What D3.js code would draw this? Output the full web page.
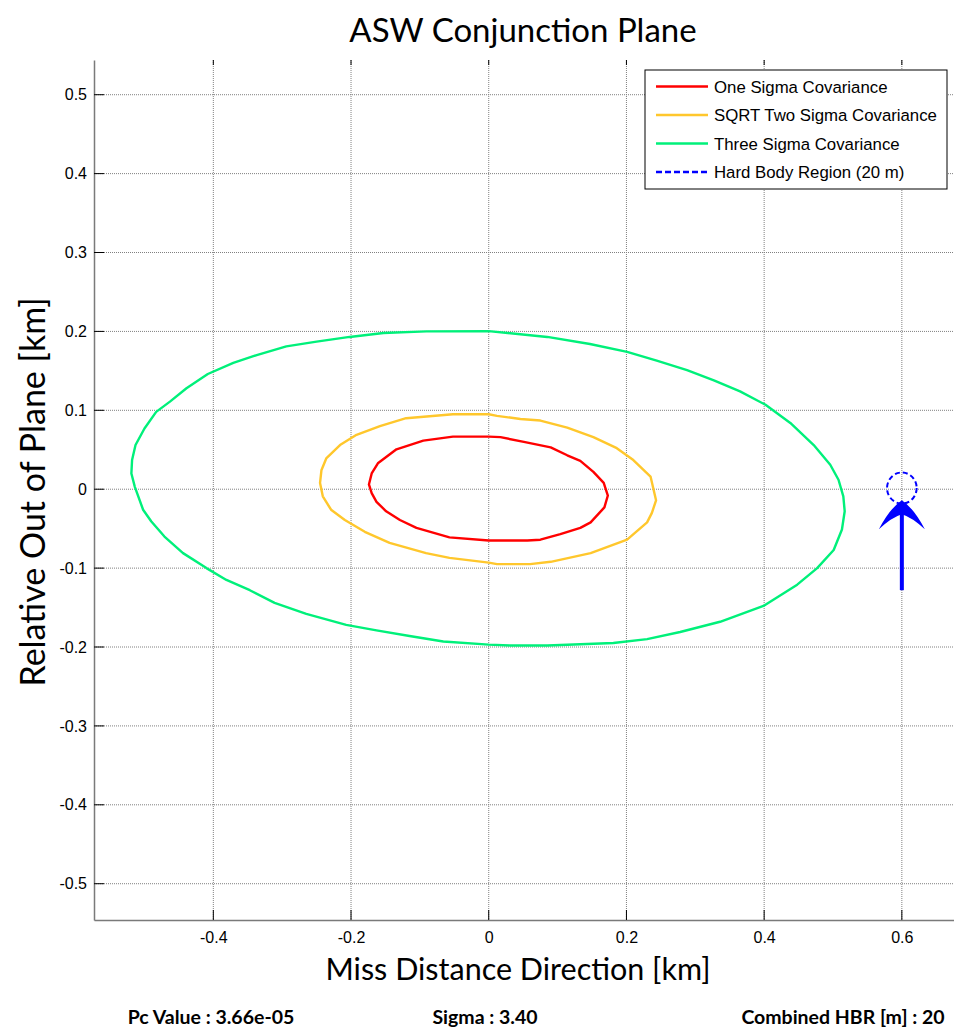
<!DOCTYPE html>
<html>
<head>
<meta charset="utf-8">
<script src="https://cdn.jsdelivr.net/npm/d3@7"></script>
<style>
  body { margin: 0; background: #fff; }
  svg { display: block; }
</style>
</head>
<body>
<div id="chart"></div>
<script>
// tick values and labels
var xTicks = [-0.4, -0.2, 0, 0.2, 0.4, 0.6];
var xTickLabels = ["-0.4", "-0.2", "0", "0.2", "0.4", "0.6"];
var yTicks = [0.5, 0.4, 0.3, 0.2, 0.1, 0, -0.1, -0.2, -0.3, -0.4, -0.5];
var yTickLabels = ["0.5", "0.4", "0.3", "0.2", "0.1", "0", "-0.1", "-0.2", "-0.3", "-0.4", "-0.5"];

// contours [x km, y km]
var oneSigma = [
  [0, 0.0667], [-0.052, 0.0667], [-0.095, 0.0616], [-0.134, 0.0506], [-0.161, 0.0329],
  [-0.170, 0.020], [-0.174, 0.006], [-0.170, -0.005], [-0.163, -0.016], [-0.149, -0.028],
  [-0.129, -0.039], [-0.105, -0.049], [-0.057, -0.061], [0, -0.065],
  [0.056, -0.065], [0.075, -0.064], [0.104, -0.057], [0.133, -0.049], [0.148, -0.042],
  [0.168, -0.023], [0.173, -0.008], [0.167, 0.008], [0.152, 0.022], [0.133, 0.036],
  [0.114, 0.043], [0.090, 0.053], [0.051, 0.060], [0.017, 0.066], [0, 0.0667]
];
var sqrtTwoSigma = [
  [0, 0.095], [-0.052, 0.095], [-0.120, 0.090], [-0.158, 0.080], [-0.192, 0.069],
  [-0.216, 0.056], [-0.236, 0.039], [-0.243, 0.024], [-0.245, 0.008], [-0.241, -0.009],
  [-0.229, -0.026], [-0.209, -0.039], [-0.180, -0.054], [-0.144, -0.068], [-0.091, -0.081],
  [-0.057, -0.087], [0, -0.093], [0.012, -0.095], [0.060, -0.095], [0.090, -0.092],
  [0.148, -0.081], [0.201, -0.064], [0.230, -0.042], [0.237, -0.030], [0.243, -0.014],
  [0.235, 0.016], [0.210, 0.037], [0.186, 0.052], [0.152, 0.066], [0.114, 0.078],
  [0.075, 0.087], [0.046, 0.089], [0.012, 0.093], [0, 0.095]
];
var threeSigma = [
  [0, 0.2004], [-0.0905, 0.200], [-0.153, 0.198], [-0.202, 0.193], [-0.250, 0.187],
  [-0.294, 0.181], [-0.337, 0.170], [-0.371, 0.160], [-0.408, 0.146], [-0.439, 0.128],
  [-0.463, 0.111], [-0.483, 0.098], [-0.500, 0.077], [-0.513, 0.056], [-0.518, 0.037],
  [-0.519, 0.020], [-0.514, 0.003], [-0.502, -0.026], [-0.490, -0.041], [-0.471, -0.060],
  [-0.444, -0.081], [-0.410, -0.100], [-0.381, -0.115], [-0.347, -0.128], [-0.311, -0.144],
  [-0.265, -0.158], [-0.207, -0.172], [-0.163, -0.179], [-0.115, -0.186], [-0.066, -0.193],
  [0, -0.197], [0.031, -0.198], [0.085, -0.198], [0.181, -0.195], [0.230, -0.190],
  [0.278, -0.181], [0.336, -0.168], [0.399, -0.148], [0.448, -0.121], [0.477, -0.100],
  [0.501, -0.077], [0.513, -0.051], [0.517, -0.028], [0.515, -0.009], [0.508, 0.012],
  [0.496, 0.031], [0.472, 0.056], [0.438, 0.084], [0.402, 0.107], [0.365, 0.124],
  [0.327, 0.138], [0.288, 0.151], [0.244, 0.163], [0.201, 0.174], [0.147, 0.184],
  [0.085, 0.193], [0, 0.2004]
];

// hard body region: centre and radii (km)
var hbrCentre = [0.6, 0.0015];
var hbrRadius = [0.0215, 0.0197];
// arrow from, to (km)
var arrowFrom = [0.6, -0.128];
var arrowTo = [0.6, -0.014];

var legendLabels = ["One Sigma Covariance", "SQRT Two Sigma Covariance", "Three Sigma Covariance", "Hard Body Region (20 m)"];
var legendColors = ["#ff0000", "#ffc72c", "#00f07a", "#0000ff"];

var footer = ["Pc Value : 3.66e-05", "Sigma : 3.40", "Combined HBR [m] : 20"];

var W = 954, H = 1028;
var plotLeft = 94, plotRight = 957, plotTop = 60, plotBottom = 920;

var x = d3.scaleLinear().domain([-0.5733, 0.6801]).range([plotLeft, plotRight]);
var y = d3.scaleLinear().domain([-0.546, 0.544]).range([plotBottom, plotTop]);

var svg = d3.select("#chart").append("svg")
    .attr("width", W)
    .attr("height", H);

svg.append("rect").attr("width", W).attr("height", H).attr("fill", "#fff");

var tickFont = "'Liberation Sans', Arial, sans-serif";
var labelFont = "Lato, 'Open Sans', sans-serif";

// grid
svg.append("g").selectAll("line").data(xTicks).enter().append("line")
    .attr("x1", d => x(d)).attr("x2", d => x(d))
    .attr("y1", plotTop).attr("y2", plotBottom)
    .style("stroke", "#808080").style("stroke-width", "1px").style("stroke-dasharray", "1,1");
svg.append("g").selectAll("line").data(yTicks).enter().append("line")
    .attr("x1", plotLeft).attr("x2", plotRight)
    .attr("y1", d => y(d)).attr("y2", d => y(d))
    .style("stroke", "#808080").style("stroke-width", "1px").style("stroke-dasharray", "1,1");

// axes
var xAxis = svg.append("g")
    .attr("transform", "translate(0," + plotBottom + ")")
    .call(d3.axisBottom(x).tickValues(xTicks).tickSize(0).tickPadding(12)
        .tickFormat((d, i) => xTickLabels[i]));
var yAxis = svg.append("g")
    .attr("transform", "translate(" + plotLeft + ",0)")
    .call(d3.axisLeft(y).tickValues(yTicks).tickSize(0).tickPadding(7)
        .tickFormat((d, i) => yTickLabels[i]));
[xAxis, yAxis].forEach(function(a) {
  a.select(".domain").style("stroke", "#7a7a7a").style("stroke-width", "1.5px");
  a.selectAll("text").style("font-family", tickFont).style("font-size", "16px").style("fill", "#000");
});

// inward ticks
svg.append("g").selectAll("line").data(xTicks).enter().append("line")
    .attr("x1", d => x(d)).attr("x2", d => x(d))
    .attr("y1", plotBottom).attr("y2", plotBottom - 10)
    .style("stroke", "#000").style("stroke-width", "1px");
svg.append("g").selectAll("line").data(xTicks).enter().append("line")
    .attr("x1", d => x(d)).attr("x2", d => x(d))
    .attr("y1", plotTop).attr("y2", plotTop + 5)
    .style("stroke", "#000").style("stroke-width", "1px");
svg.append("g").selectAll("line").data(yTicks).enter().append("line")
    .attr("x1", plotLeft).attr("x2", plotLeft + 10)
    .attr("y1", d => y(d)).attr("y2", d => y(d))
    .style("stroke", "#000").style("stroke-width", "1px");

// contours
const line = d3.line()
    .x(d => x(d[0]))
    .y(d => y(d[1]));

[[threeSigma, legendColors[2]], [sqrtTwoSigma, legendColors[1]], [oneSigma, legendColors[0]]].forEach(function(s) {
  svg.append("path")
      .datum(s[0])
      .attr("d", line)
      .style("fill", "none")
      .style("stroke", s[1])
      .style("stroke-width", "2.4px")
      .style("stroke-linejoin", "round");
});

// hard body region
svg.append("ellipse")
    .attr("cx", x(hbrCentre[0])).attr("cy", y(hbrCentre[1]))
    .attr("rx", x(hbrCentre[0] + hbrRadius[0]) - x(hbrCentre[0]))
    .attr("ry", y(hbrCentre[1] - hbrRadius[1]) - y(hbrCentre[1]))
    .style("fill", "none")
    .style("stroke", "#0000ff")
    .style("stroke-width", "2px")
    .style("stroke-dasharray", "5,3");

// arrow
var ax0 = x(arrowFrom[0]), ay0 = y(arrowFrom[1]);
var ax1 = x(arrowTo[0]), ay1 = y(arrowTo[1]);
svg.append("line")
    .attr("x1", ax0).attr("y1", ay0).attr("x2", ax1).attr("y2", ay1 + 8)
    .style("stroke", "#0000ff").style("stroke-width", "4px");
svg.append("path")
    .attr("d", "M" + ax1 + "," + ay1 +
        " Q" + (ax1 - 12) + "," + (ay1 + 8) + " " + (ax1 - 23) + "," + (ay1 + 29) +
        " Q" + (ax1 - 10) + "," + (ay1 + 17) + " " + ax1 + "," + (ay1 + 14) +
        " Q" + (ax1 + 10) + "," + (ay1 + 17) + " " + (ax1 + 23) + "," + (ay1 + 29) +
        " Q" + (ax1 + 12) + "," + (ay1 + 8) + " " + ax1 + "," + ay1 + "Z")
    .style("fill", "#0000ff");

// legend
var lg = svg.append("g").attr("transform", "translate(645,70)");
lg.append("rect")
    .attr("width", 302).attr("height", 119)
    .style("fill", "#fff").style("stroke", "#000").style("stroke-width", "1px");
legendLabels.forEach(function(t, i) {
  var yy = 16.5 + i * 28.5;
  lg.append("line")
      .attr("x1", 11).attr("x2", 63).attr("y1", yy).attr("y2", yy)
      .style("stroke", legendColors[i]).style("stroke-width", "2.5px")
      .style("stroke-dasharray", i === 3 ? "6,3" : null);
  lg.append("text")
      .attr("x", 69).attr("y", yy + 6)
      .style("font-family", tickFont).style("font-size", "16.8px")
      .text(t);
});

// titles
svg.append("text")
    .attr("x", 523).attr("y", 42)
    .attr("text-anchor", "middle")
    .style("font-family", labelFont).style("font-size", "33px")
    .text("ASW Conjunction Plane");
svg.append("text")
    .attr("x", 518).attr("y", 980)
    .attr("text-anchor", "middle")
    .style("font-family", labelFont).style("font-size", "30.5px")
    .text("Miss Distance Direction [km]");
svg.append("text")
    .attr("transform", "translate(45,492) rotate(-90)")
    .attr("text-anchor", "middle")
    .style("font-family", labelFont).style("font-size", "34px")
    .text("Relative Out of Plane [km]");

// footer
var footX = [211, 485, 843];
footer.forEach(function(t, i) {
  svg.append("text")
      .attr("x", footX[i]).attr("y", 1024)
      .attr("text-anchor", "middle")
      .style("font-family", labelFont).style("font-size", "19.5px").style("font-weight", "bold")
      .text(t);
});
</script>
</body>
</html>
